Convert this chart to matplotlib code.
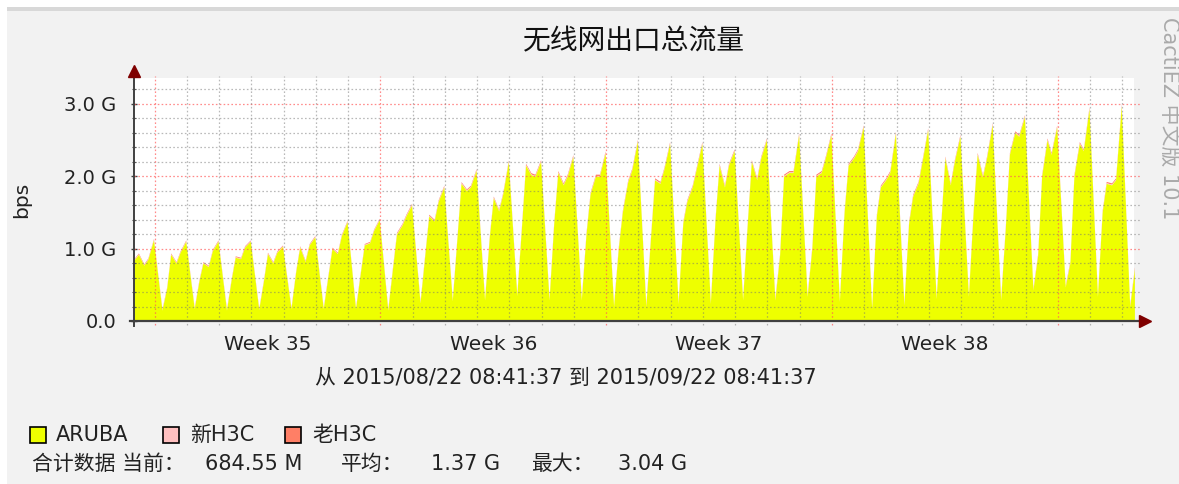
"""Cacti style weekly traffic graph: 无线网出口总流量 (stacked AREA, ARUBA + H3C)."""

import matplotlib
matplotlib.use("Agg")
import matplotlib.pyplot as plt
import numpy as np
from matplotlib.patches import Rectangle

plt.rcParams["font.family"] = ["DejaVu Sans", "Noto Sans CJK SC"]

# ---- data (Gbps), one entry per calendar day, Aug 22 .. Sep 22 ----------
hours = [5.5, 9.0, 12.0, 16.0, 19.0, 23.2]          # sample hours in each day
nan = float("nan")
aruba_05h = [0.15, 0.15, 0.17, 0.15, 0.16, 0.17, 0.17, 0.17, 0.15, 0.25, 0.28,
             0.29, 0.35, 0.29, 0.29, 0.20, 0.20, 0.24, 0.24, 0.29, 0.29, 0.34,
             0.27, 0.17, 0.22, 0.31, 0.34, 0.29, 0.43, 0.47, 0.34, 0.20]
aruba_09h = [0.85, 0.45, 0.55, 0.57, 0.55, 0.68, 0.62, 0.65, 0.72, 0.90, 1.15,
             1.15, 1.30, 1.35, 1.20, 1.00, 1.15, 1.35, 1.40, 1.35, 0.90, 1.00,
             1.50, 1.45, 1.35, 1.35, 1.50, 1.30, 0.90, 0.80, 1.50, 0.72]
aruba_12h = [0.92, 0.92, 0.80, 0.88, 0.93, 1.02, 1.00, 1.05, 1.20, 1.45, 1.90,
             1.70, 2.15, 2.05, 1.75, 1.50, 1.95, 1.65, 2.15, 2.20, 2.00, 2.00,
             2.15, 1.85, 1.72, 2.25, 2.30, 2.30, 2.00, 2.00, 1.90, nan]
aruba_16h = [0.77, 0.80, 0.75, 0.86, 0.80, 0.82, 0.93, 1.08, 1.32, 1.38, 1.80,
             1.52, 2.02, 1.88, 2.00, 1.92, 1.90, 1.85, 1.85, 1.95, 2.05, 2.05,
             2.25, 1.95, 1.90, 1.88, 1.99, 2.60, 2.50, 2.45, 1.88, nan]
aruba_19h = [0.85, 0.95, 0.97, 1.02, 0.95, 1.05, 1.18, 1.25, 1.45, 1.65, 1.85,
             1.75, 2.00, 2.00, 2.00, 2.08, 2.10, 2.10, 2.15, 2.25, 2.05, 2.25,
             2.35, 2.05, 2.20, 2.20, 2.25, 2.55, 2.30, 2.35, 1.95, nan]
aruba_23h = [1.12, 1.10, 1.10, 1.10, 1.03, 1.16, 1.37, 1.40, 1.60, 1.85, 2.08,
             2.20, 2.20, 2.27, 2.32, 2.48, 2.45, 2.45, 2.35, 2.50, 2.57, 2.57,
             2.68, 2.59, 2.64, 2.55, 2.71, 2.82, 2.68, 2.93, 2.97, nan]
new_h3c = [0.008, 0.008, 0.008, 0.008, 0.008, 0.008, 0.008, 0.008, 0.01, 0.01,
           0.01, 0.01, 0.01, 0.01, 0.01, 0.01, 0.01, 0.01, 0.01, 0.01, 0.01,
           0.01, 0.01, 0.01, 0.01, 0.01, 0.01, 0.01, 0.01, 0.01, 0.01, 0.01]
old_h3c = [0.012, 0.012, 0.012, 0.012, 0.012, 0.012, 0.012, 0.012, 0.015, 0.015,
           0.015, 0.015, 0.018, 0.018, 0.018, 0.018, 0.018, 0.018, 0.018, 0.018,
           0.018, 0.018, 0.018, 0.018, 0.018, 0.018, 0.018, 0.018, 0.018, 0.018,
           0.018, 0.018]

week_labels = ["Week 35", "Week 36", "Week 37", "Week 38"]
week_centers = [4.5, 11.5, 18.5, 25.5]              # days since Aug 22 00:00
week_starts = [1, 8, 15, 22, 29]                    # Sunday midnights
y_major = [0, 1, 2, 3]
y_labels = ["0.0", "1.0 G", "2.0 G", "3.0 G"]
legend_names = ["ARUBA", "新H3C", "老H3C"]
legend_colors = ["#EEFF00", "#FFC0C0", "#FF7F66"]
stat_labels = ["合计数据 当前：", "平均：", "最大："]
stat_values = ["684.55 M", "1.37 G", "3.04 G"]

# ---- assemble time series ----------------------------------------------
table = np.array([aruba_05h, aruba_09h, aruba_12h, aruba_16h, aruba_19h, aruba_23h])
t = (np.arange(len(aruba_05h))[None, :] + np.array(hours)[:, None] / 24.0).T.ravel()
aruba = table.T.ravel()
keep = ~np.isnan(aruba)
t, aruba = t[keep], aruba[keep]
day_idx = np.floor(t).astype(int)
layer2 = aruba + np.array(new_h3c)[day_idx]
layer3 = layer2 + np.array(old_h3c)[day_idx]

W, H = 1179, 484
fig = plt.figure(figsize=(W / 100, H / 100), dpi=100)
fig.patch.set_facecolor("white")
fig.add_artist(Rectangle((7 / W, 0), 1 - 7 / W, 1 - 7 / H, transform=fig.transFigure,
                         facecolor="#F2F2F2", edgecolor="none", zorder=0))
fig.add_artist(Rectangle((7 / W, 1 - 11 / H), 1 - 7 / W, 4 / H, transform=fig.transFigure,
                         facecolor="#D8D8D8", edgecolor="none", zorder=0))

ax = fig.add_axes([134 / W, 1 - 321 / H, 1000 / W, 243 / H])
ax.set_facecolor("white")
t0 = (8 * 3600 + 41 * 60 + 37) / 86400.0
t1 = t0 + 31
ymax = 3.356
ax.set_xlim(t0, t1)
ax.set_ylim(0, ymax)
for s in ax.spines.values():
    s.set_visible(False)

ax.fill_between(t, layer2, layer3, color=legend_colors[2], lw=0, zorder=1)
ax.fill_between(t, aruba, layer2, color=legend_colors[1], lw=0, zorder=1)
ax.fill_between(t, 0, aruba, color=legend_colors[0], lw=0, zorder=1.5)

# grid on top of the data, slightly overhanging like rrdtool
dots = (0, (1.3, 1.8))
red_grid = (1.0, 0.35, 0.35, 0.7)
gray_grid = (0.45, 0.45, 0.45, 0.5)
for y in np.arange(0.2, 3.3, 0.2):
    major = abs(y - round(y)) < 1e-6
    ax.plot([t0, t1 + 0.19], [y, y], ls=dots, lw=0.9, clip_on=False, zorder=3,
            color=red_grid if major else gray_grid)
for k in range(1, 32):
    major = k in week_starts
    ax.plot([k, k], [-0.06, 3.39], ls=dots, lw=0.9, clip_on=False, zorder=3,
            color=red_grid if major else gray_grid)

# axes with arrow heads
ax.plot([t0 - 0.12, t1 + 0.2], [0, 0], color="#404040", lw=1.6, clip_on=False, zorder=5)
ax.plot([t0, t0], [-0.07, 3.40], color="#404040", lw=1.4, clip_on=False, zorder=5)
ax.plot([t1 + 0.33], [0], marker=">", ms=8, color="#7F0000", clip_on=False, zorder=6)
ax.plot([t0], [3.45], marker="^", ms=8, color="#7F0000", clip_on=False, zorder=6)

ax.set_yticks(y_major, labels=y_labels)
ax.set_yticks(np.arange(0.2, 3.3, 0.2), minor=True)
ax.tick_params(axis="y", which="major", direction="inout", length=5, width=1,
               color="#404040", pad=10, labelsize=14, labelcolor="#222222")
ax.tick_params(axis="y", which="minor", direction="inout", length=3, width=0.8,
               color="#404040")
ax.set_xticks(week_centers, labels=week_labels)
ax.tick_params(axis="x", which="both", length=0, pad=10, labelsize=14.5,
               labelcolor="#222222")

fig.text(634 / W, 1 - 41 / H, "无线网出口总流量", ha="center", va="center",
         fontsize=20, color="#111111", family=["Noto Sans CJK SC"])
fig.text(22 / W, 1 - 200 / H, "bps", rotation=90, ha="center", va="center",
         fontsize=14.5, color="#222222")
fig.text(566 / W, 1 - 378 / H, "从 2015/08/22 08:41:37 到 2015/09/22 08:41:37",
         ha="center", va="center", fontsize=15, color="#222222")
fig.text(1169 / W, 1 - 118 / H, "CactiEZ 中文版 10.1", rotation=270, ha="center",
         va="center", fontsize=15, color="#AAAAAA")

# legend
for x_box, x_txt, name, col in zip([30, 163, 285], [56, 190, 312],
                                   legend_names, legend_colors):
    fig.add_artist(Rectangle((x_box / W, 1 - 443 / H), 16 / W, 16 / H,
                             transform=fig.transFigure, facecolor=col,
                             edgecolor="black", lw=1.2))
    fig.text(x_txt / W, 1 - 435 / H, name, ha="left", va="center", fontsize=15,
             color="#222222")

fig.text(32 / W, 1 - 464 / H, stat_labels[0], ha="left", va="center",
         fontsize=15, color="#222222")
for x_lab, x_val, lab, val in zip([None, 341, 531], [205, 431, 618],
                                  [None] + stat_labels[1:], stat_values):
    if lab:
        fig.text(x_lab / W, 1 - 464 / H, lab, ha="left", va="center",
                 fontsize=15, color="#222222")
    fig.text(x_val / W, 1 - 464 / H, val, ha="left", va="center", fontsize=15,
             color="#222222")

fig.savefig("out.png", dpi=100)
